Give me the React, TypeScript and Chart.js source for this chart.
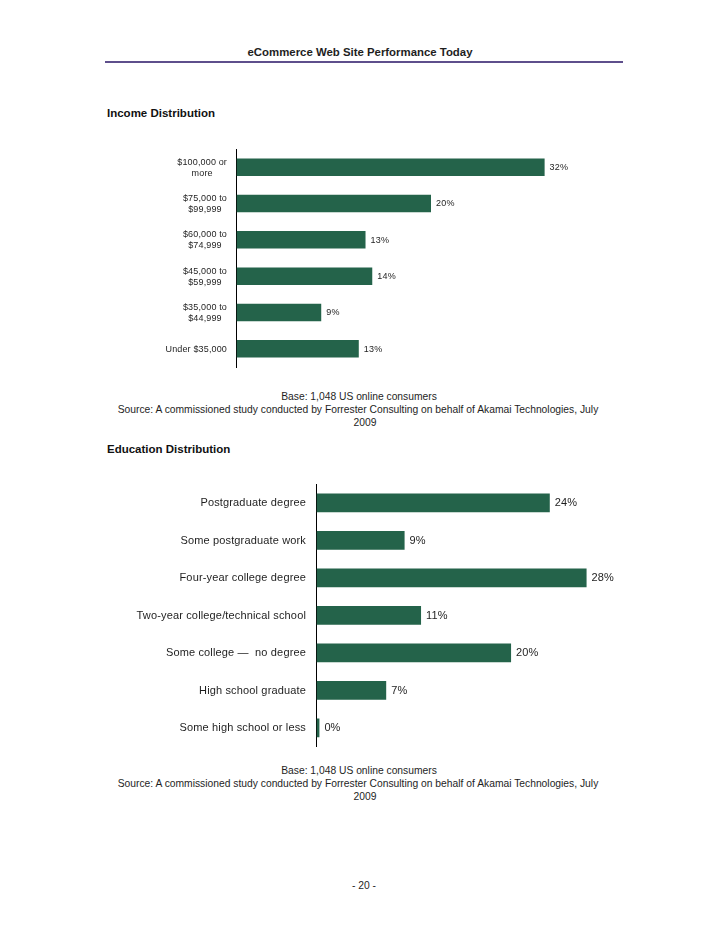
import React, { useEffect, useRef } from "react";
import { Chart, registerables } from "chart.js";

Chart.register(...registerables);

const incomeCategories: string[][] = [
  ["$100,000 or", "more"],
  ["$75,000 to", "$99,999"],
  ["$60,000 to", "$74,999"],
  ["$45,000 to", "$59,999"],
  ["$35,000 to", "$44,999"],
  ["Under $35,000"],
];
const incomeValues = [32, 20.2, 13.4, 14.1, 8.8, 12.7];
const incomeValueLabels = ["32%", "20%", "13%", "14%", "9%", "13%"];

const educationCategories = [
  "Postgraduate degree",
  "Some postgraduate work",
  "Four-year college degree",
  "Two-year college/technical school",
  "Some college \u2014  no degree",
  "High school graduate",
  "Some high school or less",
];
const educationValues = [24.1, 9.1, 27.9, 10.8, 20.1, 7.2, 0.3];
const educationValueLabels = ["24%", "9%", "28%", "11%", "20%", "7%", "0%"];

const FONT = "'Liberation Sans', Arial, Helvetica, sans-serif";
const BAR_COLOR = "#24634a";
const TEXT_COLOR = "#1e1e1e";

const valueLabelPlugin = {
  id: "valueLabels",
  afterDatasetsDraw(chart: any, _args: any, opts: any) {
    const { ctx } = chart;
    const meta = chart.getDatasetMeta(0);
    const labels: string[] = opts.labels || [];
    ctx.save();
    ctx.font = `${opts.size || 9}px ${FONT}`;
    if ("letterSpacing" in ctx) (ctx as any).letterSpacing = `${opts.spacing || 0}px`;
    ctx.fillStyle = TEXT_COLOR;
    ctx.textAlign = "left";
    ctx.textBaseline = "middle";
    meta.data.forEach((bar: any, i: number) => {
      ctx.fillText(labels[i] ?? "", bar.x + (opts.offset ?? 5), bar.y + 0.5);
    });
    ctx.restore();
  },
};

// Category labels: each label block is right-aligned against the axis,
// with its lines centred inside the block.
const categoryLabelPlugin = {
  id: "categoryLabels",
  afterDraw(chart: any, _args: any, opts: any) {
    if (!opts || !opts.lines) return;
    const { ctx } = chart;
    const yScale = chart.scales.y;
    const lines: string[][] = opts.lines;
    const lh = opts.lineHeight || 11;
    ctx.save();
    ctx.font = `${opts.size || 9}px ${FONT}`;
    if ("letterSpacing" in ctx) (ctx as any).letterSpacing = `${opts.spacing || 0}px`;
    ctx.fillStyle = TEXT_COLOR;
    ctx.textAlign = "center";
    ctx.textBaseline = "middle";
    const right = chart.chartArea.left - (opts.gap || 9);
    lines.forEach((ls, i) => {
      const cy = yScale.getPixelForValue(i);
      const w = Math.max(...ls.map((l) => ctx.measureText(l).width));
      const cx = right - w / 2;
      const start = cy - ((ls.length - 1) * lh) / 2;
      ls.forEach((l, j) => ctx.fillText(l, cx, start + j * lh + 0.5));
    });
    ctx.restore();
  },
};

function IncomeChart() {
  const ref = useRef<HTMLCanvasElement>(null);
  useEffect(() => {
    if (!ref.current) return;
    const chart = new Chart(ref.current, {
      type: "bar",
      data: {
        labels: incomeCategories.map((c) => c.join(" ")),
        datasets: [
          {
            data: incomeValues,
            backgroundColor: BAR_COLOR,
            borderWidth: 0,
            categoryPercentage: 1,
            barPercentage: 0.48,
          },
        ],
      },
      options: {
        indexAxis: "y",
        animation: false,
        responsive: false,
        maintainAspectRatio: false,
        layout: { padding: { top: 9, bottom: 13, left: 0, right: 6.5 } },
        plugins: {
          legend: { display: false },
          tooltip: { enabled: false },
          valueLabels: { labels: incomeValueLabels, size: 9, offset: 5, spacing: 0.2 },
          categoryLabels: { lines: incomeCategories, size: 9, lineHeight: 11, gap: 9.5, spacing: 0.15 },
        } as any,
        scales: {
          x: { display: false, min: 0, max: 35 },
          y: {
            grid: { display: false, drawTicks: false },
            border: { display: true, color: "#000", width: 1 },
            ticks: { display: false, padding: 0 },
            afterFit: (s: any) => {
              s.width = 136.5;
            },
          },
        },
      },
      plugins: [valueLabelPlugin, categoryLabelPlugin],
    });
    return () => chart.destroy();
  }, []);
  return (
    <canvas
      ref={ref}
      width={480}
      height={240}
      style={{ position: "absolute", left: 100, top: 140, width: 480, height: 240 }}
    />
  );
}

function EducationChart() {
  const ref = useRef<HTMLCanvasElement>(null);
  useEffect(() => {
    if (!ref.current) return;
    const chart = new Chart(ref.current, {
      type: "bar",
      data: {
        labels: educationCategories,
        datasets: [
          {
            data: educationValues,
            backgroundColor: BAR_COLOR,
            borderWidth: 0,
            categoryPercentage: 1,
            barPercentage: 0.5,
          },
        ],
      },
      options: {
        indexAxis: "y",
        animation: false,
        responsive: false,
        maintainAspectRatio: false,
        layout: { padding: { top: 9, bottom: 8.5, left: 0, right: 13.1 } },
        plugins: {
          legend: { display: false },
          tooltip: { enabled: false },
          valueLabels: { labels: educationValueLabels, size: 11, offset: 5, spacing: 0.1 },
          categoryLabels: {
            lines: educationCategories.map((c) => [c]),
            size: 11,
            lineHeight: 13,
            gap: 10.5,
            spacing: 0.15,
          },
        } as any,
        scales: {
          x: { display: false, min: 0, max: 30 },
          y: {
            grid: { display: false, drawTicks: false },
            border: { display: true, color: "#000", width: 1 },
            ticks: { display: false, padding: 0 },
            afterFit: (s: any) => {
              s.width = 216.5;
            },
          },
        },
      },
      plugins: [valueLabelPlugin, categoryLabelPlugin],
    });
    return () => chart.destroy();
  }, []);
  return (
    <canvas
      ref={ref}
      width={520}
      height={280}
      style={{ position: "absolute", left: 100, top: 475, width: 520, height: 280 }}
    />
  );
}

function CenterLine({ text, cx, cy, size = 10.3, bold = false }: any) {
  const lh = 14;
  return (
    <div
      style={{
        position: "absolute",
        left: cx - 350,
        width: 700,
        top: cy - lh / 2,
        height: lh,
        lineHeight: `${lh}px`,
        fontSize: size,
        fontWeight: bold ? "bold" : "normal",
        textAlign: "center",
        whiteSpace: "nowrap",
        color: TEXT_COLOR,
      }}
    >
      {text}
    </div>
  );
}

function LeftLine({ text, x, cy, size = 11.5, bold = false }: any) {
  const lh = 14;
  return (
    <div
      style={{
        position: "absolute",
        left: x,
        top: cy - lh / 2,
        height: lh,
        lineHeight: `${lh}px`,
        fontSize: size,
        fontWeight: bold ? "bold" : "normal",
        whiteSpace: "nowrap",
        color: "#111",
      }}
    >
      {text}
    </div>
  );
}

function SourceNote({ y }: { y: number }) {
  return (
    <>
      <CenterLine text="Base: 1,048 US online consumers" cx={359} cy={y} />
      <CenterLine
        text="Source: A commissioned study conducted by Forrester Consulting on behalf of Akamai Technologies, July"
        cx={358}
        cy={y + 13}
      />
      <CenterLine text="2009" cx={365} cy={y + 26} />
    </>
  );
}

export default function App() {
  return (
    <div
      style={{
        position: "absolute",
        left: 0,
        top: 0,
        width: 728,
        height: 942,
        background: "#fff",
        fontFamily: FONT,
        overflow: "hidden",
      }}
    >
      <CenterLine text="eCommerce Web Site Performance Today" cx={360} cy={52} size={11.4} bold />
      <div
        style={{
          position: "absolute",
          left: 105,
          top: 61,
          width: 518,
          height: 2,
          background: "#5e4f8c",
        }}
      />
      <LeftLine text="Income Distribution" x={107} cy={113} bold />
      <IncomeChart />
      <SourceNote y={397} />
      <LeftLine text="Education Distribution" x={107} cy={449} bold />
      <EducationChart />
      <SourceNote y={771} />
      <CenterLine text="- 20 -" cx={364} cy={886} />
    </div>
  );
}
